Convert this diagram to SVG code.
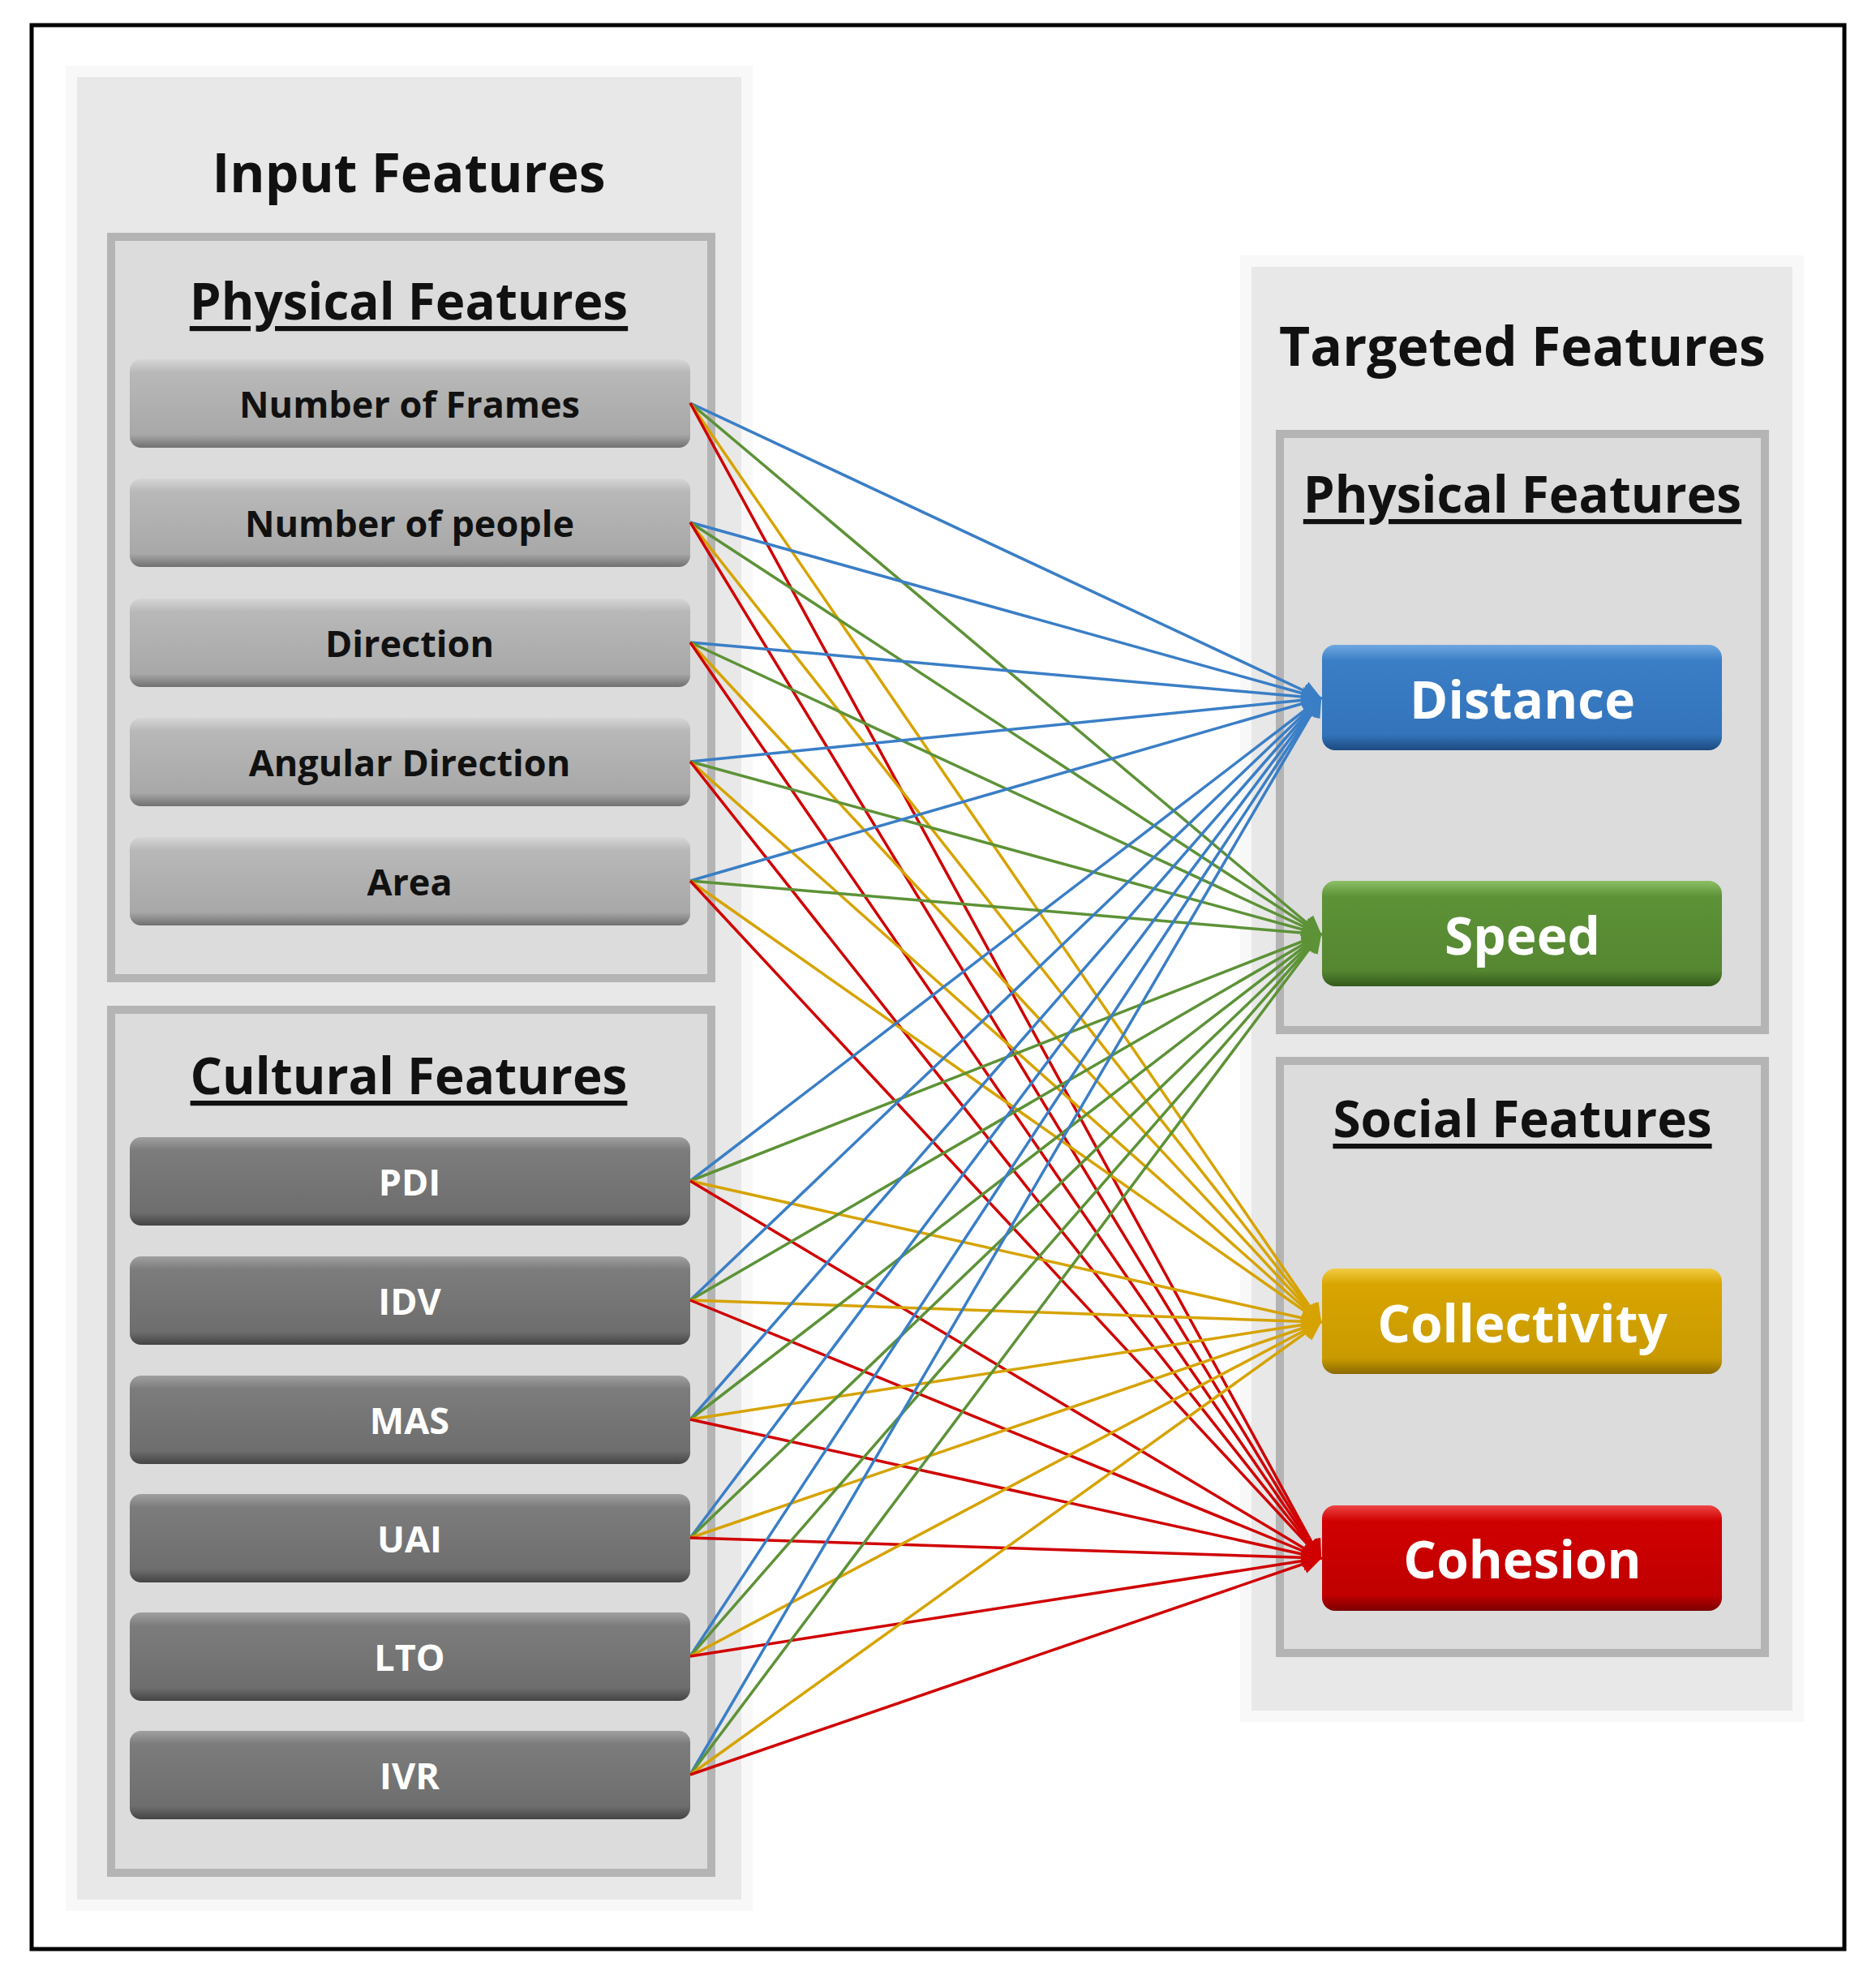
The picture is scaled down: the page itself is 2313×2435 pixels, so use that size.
<svg xmlns="http://www.w3.org/2000/svg" width="2313" height="2435" viewBox="0 0 2313 2435">
<defs>
<linearGradient id="gl" x1="0" y1="0" x2="0" y2="1"><stop offset="0" stop-color="#d6d6d6"/><stop offset="0.15" stop-color="#b8b8b8"/><stop offset="0.85" stop-color="#a8a8a8"/><stop offset="1" stop-color="#707070"/></linearGradient>
<linearGradient id="gd" x1="0" y1="0" x2="0" y2="1"><stop offset="0" stop-color="#a0a0a0"/><stop offset="0.15" stop-color="#7c7c7c"/><stop offset="0.85" stop-color="#6e6e6e"/><stop offset="1" stop-color="#444"/></linearGradient>
<linearGradient id="gb" x1="0" y1="0" x2="0" y2="1"><stop offset="0" stop-color="#6fa8e0"/><stop offset="0.15" stop-color="#3a7ec6"/><stop offset="0.85" stop-color="#3374bb"/><stop offset="1" stop-color="#1d4a80"/></linearGradient>
<linearGradient id="gg" x1="0" y1="0" x2="0" y2="1"><stop offset="0" stop-color="#8cbf66"/><stop offset="0.15" stop-color="#5d9237"/><stop offset="0.85" stop-color="#558731"/><stop offset="1" stop-color="#345a1c"/></linearGradient>
<linearGradient id="gy" x1="0" y1="0" x2="0" y2="1"><stop offset="0" stop-color="#f2cc44"/><stop offset="0.15" stop-color="#d8a500"/><stop offset="0.85" stop-color="#c99a00"/><stop offset="1" stop-color="#8a6a00"/></linearGradient>
<linearGradient id="gr" x1="0" y1="0" x2="0" y2="1"><stop offset="0" stop-color="#ee4444"/><stop offset="0.15" stop-color="#d00000"/><stop offset="0.85" stop-color="#c00000"/><stop offset="1" stop-color="#7a0000"/></linearGradient>
<marker id="mb" viewBox="0 0 10 10" refX="9" refY="5" markerWidth="7" markerHeight="7" orient="auto" markerUnits="strokeWidth"><path d="M0,0L10,5L0,10z" fill="#3a7ec6"/></marker>
<marker id="mg" viewBox="0 0 10 10" refX="9" refY="5" markerWidth="7" markerHeight="7" orient="auto" markerUnits="strokeWidth"><path d="M0,0L10,5L0,10z" fill="#5d9237"/></marker>
<marker id="my" viewBox="0 0 10 10" refX="9" refY="5" markerWidth="7" markerHeight="7" orient="auto" markerUnits="strokeWidth"><path d="M0,0L10,5L0,10z" fill="#d6a300"/></marker>
<marker id="mr" viewBox="0 0 10 10" refX="9" refY="5" markerWidth="7" markerHeight="7" orient="auto" markerUnits="strokeWidth"><path d="M0,0L10,5L0,10z" fill="#d00000"/></marker>
</defs>
<style>
text{font-family:"Open Sans",Lato,"Liberation Sans",sans-serif;font-weight:bold;text-anchor:middle;dominant-baseline:central}
.panel{fill:#e8e8e8;stroke:#f8f8f8;stroke-width:14}
.box{fill:#dcdcdc;stroke:#b4b4b4;stroke-width:10}
.btn{stroke:none}
.h1{font-size:66px;fill:#111}
.h2{font-size:62px;fill:#111;text-decoration:underline}
.lb{font-size:45px;fill:#111}
.lw{font-size:45px;fill:#fff}
.tw{font-size:64px;fill:#fff}
#conn line{stroke-width:3.5;fill:none}
.b{stroke:#3a7ec6;marker-end:url(#mb)}
.g{stroke:#5d9237;marker-end:url(#mg)}
.y{stroke:#d6a300;marker-end:url(#my)}
.r{stroke:#d00000;marker-end:url(#mr)}
</style>
<rect width="2313" height="2435" fill="#fff"/>
<rect x="39" y="31" width="2235" height="2372" fill="none" stroke="#000" stroke-width="5"/>
<g id="input">
<rect class="panel" x="88" y="88" width="833" height="2261"/>
<text class="h1" x="504" y="211">Input Features</text>
</g>
<g id="physical-in">
<rect class="box" x="137" y="292" width="740" height="914"/>
<text class="h2" x="504" y="370">Physical Features</text>
</g>
<g id="n1"><rect class="btn" x="160" y="443" width="691" height="109" rx="14" fill="url(#gl)"/><text class="lb" x="505" y="497">Number of Frames</text></g>
<g id="n2"><rect class="btn" x="160" y="590" width="691" height="109" rx="14" fill="url(#gl)"/><text class="lb" x="505" y="644">Number of people</text></g>
<g id="n3"><rect class="btn" x="160" y="738" width="691" height="109" rx="14" fill="url(#gl)"/><text class="lb" x="505" y="792">Direction</text></g>
<g id="n4"><rect class="btn" x="160" y="885" width="691" height="109" rx="14" fill="url(#gl)"/><text class="lb" x="505" y="939">Angular Direction</text></g>
<g id="n5"><rect class="btn" x="160" y="1032" width="691" height="109" rx="14" fill="url(#gl)"/><text class="lb" x="505" y="1086">Area</text></g>
<g id="cultural">
<rect class="box" x="137" y="1245" width="740" height="1064"/>
<text class="h2" x="504" y="1325">Cultural Features</text>
</g>
<g id="c1"><rect class="btn" x="160" y="1402" width="691" height="109" rx="14" fill="url(#gd)"/><text class="lw" x="505" y="1456">PDI</text></g>
<g id="c2"><rect class="btn" x="160" y="1549" width="691" height="109" rx="14" fill="url(#gd)"/><text class="lw" x="505" y="1603">IDV</text></g>
<g id="c3"><rect class="btn" x="160" y="1696" width="691" height="109" rx="14" fill="url(#gd)"/><text class="lw" x="505" y="1750">MAS</text></g>
<g id="c4"><rect class="btn" x="160" y="1842" width="691" height="109" rx="14" fill="url(#gd)"/><text class="lw" x="505" y="1896">UAI</text></g>
<g id="c5"><rect class="btn" x="160" y="1988" width="691" height="109" rx="14" fill="url(#gd)"/><text class="lw" x="505" y="2042">LTO</text></g>
<g id="c6"><rect class="btn" x="160" y="2134" width="691" height="109" rx="14" fill="url(#gd)"/><text class="lw" x="505" y="2188">IVR</text></g>
<g id="targeted">
<rect class="panel" x="1536" y="322" width="681" height="1794"/>
<text class="h1" x="1877" y="425">Targeted Features</text>
</g>
<g id="physical-out">
<rect class="box" x="1578" y="535" width="598" height="735"/>
<text class="h2" x="1877" y="608">Physical Features</text>
</g>
<g id="social">
<rect class="box" x="1578" y="1308" width="598" height="730"/>
<text class="h2" x="1877" y="1378">Social Features</text>
</g>
<g id="t1"><rect class="btn" x="1630" y="795" width="493" height="130" rx="16" fill="url(#gb)"/><text class="tw" x="1877" y="861">Distance</text></g>
<g id="t2"><rect class="btn" x="1630" y="1086" width="493" height="130" rx="16" fill="url(#gg)"/><text class="tw" x="1877" y="1152">Speed</text></g>
<g id="t3"><rect class="btn" x="1630" y="1564" width="493" height="130" rx="16" fill="url(#gy)"/><text class="tw" x="1877" y="1630">Collectivity</text></g>
<g id="t4"><rect class="btn" x="1630" y="1856" width="493" height="130" rx="16" fill="url(#gr)"/><text class="tw" x="1877" y="1921">Cohesion</text></g>
<g id="conn">
<line class="b" x1="851" y1="497" x2="1628" y2="861"/><line class="g" x1="851" y1="497" x2="1628" y2="1152"/><line class="y" x1="851" y1="497" x2="1628" y2="1630"/><line class="r" x1="851" y1="497" x2="1628" y2="1921"/>
<line class="b" x1="851" y1="644" x2="1628" y2="861"/><line class="g" x1="851" y1="644" x2="1628" y2="1152"/><line class="y" x1="851" y1="644" x2="1628" y2="1630"/><line class="r" x1="851" y1="644" x2="1628" y2="1921"/>
<line class="b" x1="851" y1="792" x2="1628" y2="861"/><line class="g" x1="851" y1="792" x2="1628" y2="1152"/><line class="y" x1="851" y1="792" x2="1628" y2="1630"/><line class="r" x1="851" y1="792" x2="1628" y2="1921"/>
<line class="b" x1="851" y1="939" x2="1628" y2="861"/><line class="g" x1="851" y1="939" x2="1628" y2="1152"/><line class="y" x1="851" y1="939" x2="1628" y2="1630"/><line class="r" x1="851" y1="939" x2="1628" y2="1921"/>
<line class="b" x1="851" y1="1086" x2="1628" y2="861"/><line class="g" x1="851" y1="1086" x2="1628" y2="1152"/><line class="y" x1="851" y1="1086" x2="1628" y2="1630"/><line class="r" x1="851" y1="1086" x2="1628" y2="1921"/>
<line class="b" x1="851" y1="1456" x2="1628" y2="861"/><line class="g" x1="851" y1="1456" x2="1628" y2="1152"/><line class="y" x1="851" y1="1456" x2="1628" y2="1630"/><line class="r" x1="851" y1="1456" x2="1628" y2="1921"/>
<line class="b" x1="851" y1="1603" x2="1628" y2="861"/><line class="g" x1="851" y1="1603" x2="1628" y2="1152"/><line class="y" x1="851" y1="1603" x2="1628" y2="1630"/><line class="r" x1="851" y1="1603" x2="1628" y2="1921"/>
<line class="b" x1="851" y1="1750" x2="1628" y2="861"/><line class="g" x1="851" y1="1750" x2="1628" y2="1152"/><line class="y" x1="851" y1="1750" x2="1628" y2="1630"/><line class="r" x1="851" y1="1750" x2="1628" y2="1921"/>
<line class="b" x1="851" y1="1896" x2="1628" y2="861"/><line class="g" x1="851" y1="1896" x2="1628" y2="1152"/><line class="y" x1="851" y1="1896" x2="1628" y2="1630"/><line class="r" x1="851" y1="1896" x2="1628" y2="1921"/>
<line class="b" x1="851" y1="2042" x2="1628" y2="861"/><line class="g" x1="851" y1="2042" x2="1628" y2="1152"/><line class="y" x1="851" y1="2042" x2="1628" y2="1630"/><line class="r" x1="851" y1="2042" x2="1628" y2="1921"/>
<line class="b" x1="851" y1="2188" x2="1628" y2="861"/><line class="g" x1="851" y1="2188" x2="1628" y2="1152"/><line class="y" x1="851" y1="2188" x2="1628" y2="1630"/><line class="r" x1="851" y1="2188" x2="1628" y2="1921"/>
</g>
</svg>
